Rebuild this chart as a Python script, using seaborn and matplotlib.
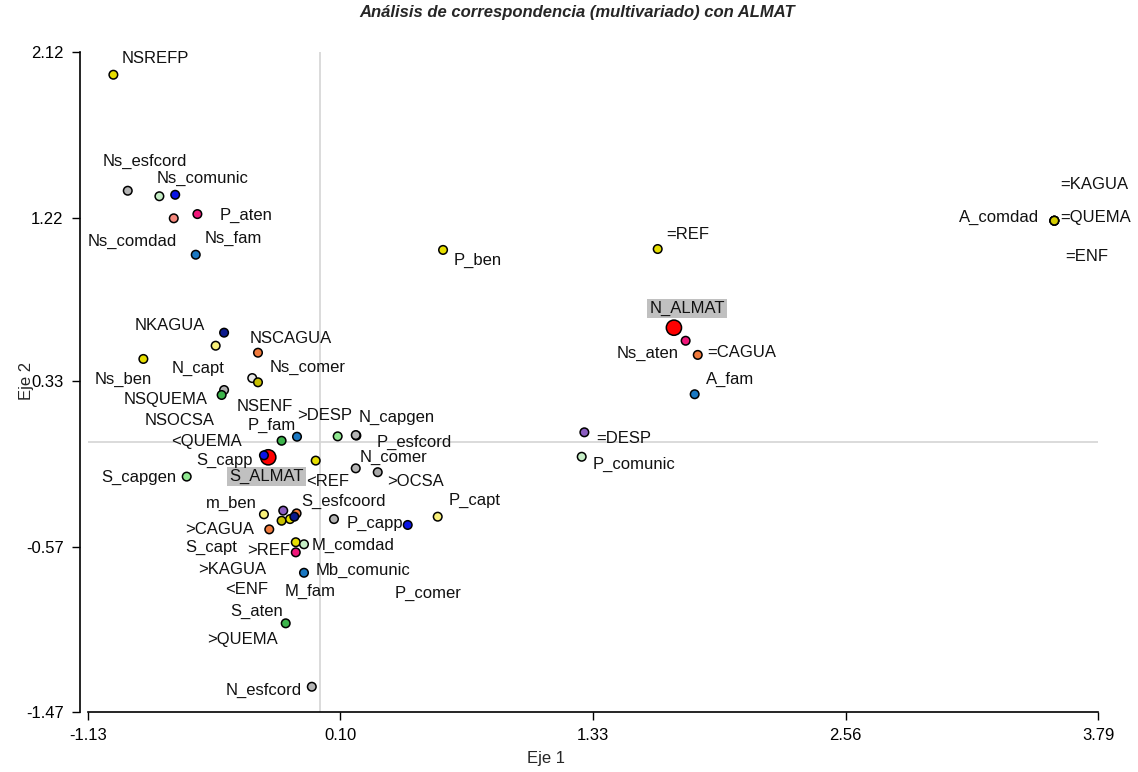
import matplotlib

matplotlib.use("Agg")
import matplotlib.pyplot as plt
import pandas as pd
import seaborn as sns

# categories (labels) and their coordinates on the two axes
labels = [
    "NSREFP", "Ns_esfcord", "", "Ns_comunic", "Ns_comdad", "P_aten", "Ns_fam",
    "=KAGUA", "=ENF", "=QUEMA", "A_comdad", "=REF", "P_ben",
    "N_ALMAT", "Ns_aten", "=CAGUA", "A_fam", "=DESP", "P_comunic",
    "NKAGUA", "N_capt", "NSCAGUA", "Ns_ben", "NSENF", "Ns_comer",
    "NSQUEMA", "NSOCSA", "<QUEMA", "P_fam", ">DESP", "P_esfcord", "N_capgen",
    "S_ALMAT", "S_capp", "<REF", "N_comer", ">OCSA", "S_capgen", "P_capt",
    "m_ben", ">KAGUA", "S_capt", "P_comer", "<ENF", ">QUEMA",
    "S_esfcoord", "P_capp", ">CAGUA", "M_fam", "M_comdad", ">REF",
    "Mb_comunic", "S_aten", "N_esfcord",
]
eje1 = [
    -1.005, -0.935, -0.781, -0.704, -0.711, -0.596, -0.604,
    3.576, 3.576, 3.576, 3.576, 1.645, 0.600,
    1.724, 1.781, 1.840, 1.825, 1.288, 1.275,
    -0.466, -0.507, -0.301, -0.859, -0.329, -0.301,
    -0.466, -0.478, -0.186, -0.111, 0.087, 0.178, 0.175,
    -0.251, -0.272, -0.020, 0.175, 0.282, -0.648, 0.574,
    -0.272, -0.178, -0.186, -0.113, -0.145, -0.124,
    0.069, 0.428, -0.246, -0.117, -0.077, -0.117,
    -0.077, -0.166, -0.039,
]
eje2 = [
    1.998, 1.367, 1.337, 1.345, 1.217, 1.240, 1.019,
    1.204, 1.204, 1.204, 1.204, 1.050, 1.045,
    0.622, 0.551, 0.474, 0.260, 0.053, -0.080,
    0.595, 0.524, 0.486, 0.452, 0.348, 0.325,
    0.283, 0.256, 0.007, 0.029, 0.031, 0.035, 0.038,
    -0.083, -0.072, -0.101, -0.143, -0.164, -0.188, -0.406,
    -0.393, -0.373, -0.428, -0.388, -0.419, -0.406,
    -0.419, -0.451, -0.475, -0.545, -0.556, -0.600,
    -0.711, -0.986, -1.331,
]
x_ticks = [-1.13, 0.10, 1.33, 2.56, 3.79]
y_ticks = [-1.47, -0.57, 0.33, 1.22, 2.12]
highlighted = ["N_ALMAT", "S_ALMAT"]

# styling: one colour per point, label offsets in pixels (dx right, dy down)
YEL, OLV, LYEL = "#e6de00", "#c8c000", "#f8f07a"
GRY, LGRY = "#b4b4b4", "#e8e8e8"
PGRN, LGRN, GRN = "#c6eec6", "#90e890", "#3cb44b"
BLU, NAV, STL = "#0a14e6", "#0c1a8c", "#1a78c2"
PNK, SAL, ORG, PUR, RED = "#f0167a", "#f4877c", "#f07a3c", "#8a5cc0", "#ff0000"
point_colors = [
    YEL, GRY, PGRN, BLU, SAL, PNK, STL,
    YEL, YEL, YEL, "#d4cc00", YEL, YEL,
    RED, PNK, ORG, STL, PUR, PGRN,
    NAV, LYEL, ORG, YEL, LGRY, OLV,
    GRY, GRN, GRN, STL, LGRN, GRY, GRY,
    RED, BLU, YEL, GRY, "#a8a8a8", LGRN, LYEL,
    LYEL, PUR, OLV, ORG, YEL, NAV,
    GRY, BLU, ORG, YEL, PGRN, PNK,
    STL, GRN, GRY,
]
label_offsets = [
    (42, -16), (17, -29), (0, 0), (27, -16), (-42, 23), (49, 1), (38, -16),
    (40, -36), (32, 36), (41, -3), (-55, -3), (30, -15), (35, 10),
    (13, -19), (-38, 13), (44, -2), (35, -15), (39, 6), (52, 8),
    (-54, -7), (-18, 23), (33, -14), (-20, 20), (13, 28), (50, -15),
    (-58, 9), (-42, 26), (-75, 1), (-25, -11), (-13, -21), (58, 7), (41, -18),
    (-2, 19), (-39, 5), (12, 21), (38, -11), (38, 9), (-48, 1), (37, -16),
    (-33, -11), (-51, 59), (-70, 27), (131, 80), (-43, 70), (-52, 123),
    (10, -18), (-33, -2), (-50, 0), (14, 49), (49, 1), (-27, -2),
    (59, -2), (-29, -12), (-48, 4),
]

df = pd.DataFrame({"label": labels, "eje1": eje1, "eje2": eje2})
df["grupo"] = ["alm" if lab in highlighted else "cat" for lab in labels]
df["key"] = [f"{i}" for i in range(len(labels))]

sns.set_style("ticks")
plt.rcParams["font.family"] = ["Liberation Sans", "DejaVu Sans"]
plt.rcParams["font.size"] = 12

fig = plt.figure(figsize=(11.38, 7.72), dpi=100)
ax = fig.add_axes([87.7 / 1138, 59.7 / 772, 1010.6 / 1138, 660 / 772])

ax.axhline(0, color="#d4d4d4", lw=1.2, zorder=0)
ax.axvline(0, color="#d4d4d4", lw=1.2, zorder=0)

sns.scatterplot(
    data=df, x="eje1", y="eje2", hue="key",
    palette=dict(zip(df["key"], point_colors)),
    size="grupo", sizes={"cat": 38, "alm": 120},
    edgecolor="black", linewidth=1.1, legend=False, ax=ax, zorder=3,
)

for lab, x, y, (dx, dy) in zip(labels, eje1, eje2, label_offsets):
    if not lab:
        continue
    box = None
    if lab in highlighted:
        box = dict(boxstyle="square,pad=0.12", fc="#c0c0c0", ec="none")
    ax.annotate(lab, (x, y), xytext=(dx, -dy), textcoords="offset pixels",
                ha="center", va="center", fontsize=12, color="#111111",
                bbox=box, zorder=4)

ax.set_xlim(x_ticks[0], x_ticks[-1])
ax.set_ylim(y_ticks[0], y_ticks[-1])
ax.set_xticks(x_ticks)
ax.set_xticklabels([f"{t:.2f}" for t in x_ticks])
ax.set_yticks(y_ticks)
ax.set_yticklabels([f"{t:.2f}" for t in y_ticks])
ax.tick_params(direction="out", length=5.5, width=1.0, labelsize=12,
               colors="black", pad=6)
sns.despine(ax=ax)
ax.spines["left"].set_position(("outward", 5.8))
for s in ("left", "bottom"):
    ax.spines[s].set_linewidth(1.2)
    ax.spines[s].set_color("black")
ax.set_xlabel("")
ax.set_ylabel("")

fig.text(546 / 1138, 1 - 759 / 772, "Eje 1", ha="center", va="center", fontsize=12)
fig.text(27 / 1138, 1 - 381 / 772, "Eje 2", ha="center", va="center",
         rotation=90, fontsize=12)
fig.text(577 / 1138, 1 - 13 / 772,
         "Análisis de correspondencia (multivariado) con ALMAT",
         ha="center", va="center", fontsize=12, fontweight="bold", style="italic")

fig.savefig("out.png", dpi=100)
